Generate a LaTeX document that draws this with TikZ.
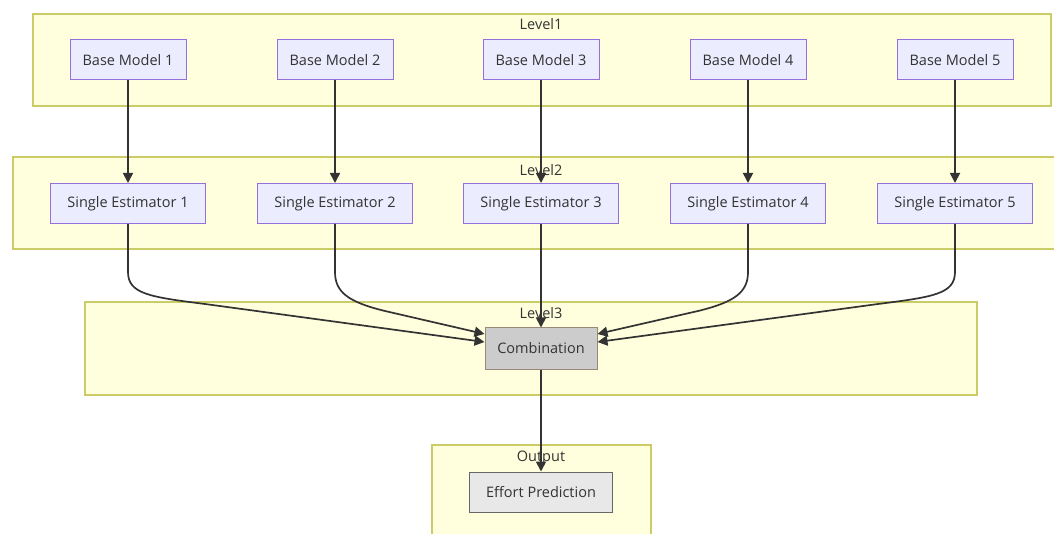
\documentclass[tikz,border=0pt]{standalone}
\usepackage{fontspec}
\setmainfont{Open Sans}
\usetikzlibrary{arrows.meta,calc}
\definecolor{nodefill}{HTML}{ECECFF}
\definecolor{nodeline}{HTML}{9370DB}
\definecolor{clfill}{HTML}{FFFFDE}
\definecolor{clline}{HTML}{CCCC66}
\definecolor{edgecol}{HTML}{333333}
\definecolor{combfill}{HTML}{CCCCCC}
\definecolor{combline}{HTML}{998877}
\definecolor{outfill}{HTML}{E8E8E8}
\definecolor{outline}{HTML}{666666}
\tikzset{
  cluster/.style={draw=clline, fill=clfill, line width=1.2pt},
  cllabel/.style={text=edgecol, font=\fontsize{14.5}{16}\selectfont, inner sep=0pt},
  proc/.style={draw=nodeline, fill=nodefill, line width=1pt, text=edgecol,
    font=\fontsize{14.5}{16}\selectfont, inner sep=0pt, minimum height=40pt},
  bm/.style={proc, minimum width=116pt},
  se/.style={proc, minimum width=155pt},
  comb/.style={proc, draw=combline, fill=combfill, minimum width=112pt, minimum height=41pt},
  outn/.style={proc, draw=outline, fill=outfill, minimum width=143pt},
  edge/.style={draw=edgecol, line width=1.7pt, -{Triangle[length=10pt,width=10pt]}}
}
\begin{document}
\begin{tikzpicture}[x=1pt,y=-1pt]
\useasboundingbox (0,0) rectangle (1054,534);
\clip (0,0) rectangle (1054,534);
\fill[white] (0,0) rectangle (1054,534);
% clusters
\draw[cluster] (33,14) rectangle (1051,106);
\draw[cluster] (13,157) rectangle (1060,249);
\draw[cluster] (85,302) rectangle (977,395);
\draw[cluster] (432,445) rectangle (651,540);
\node[cllabel] (l1) at (541,24) {Level1};
\node[cllabel] (l2) at (541,170) {Level2};
\node[cllabel] (l3) at (541,313) {Level3};
\node[cllabel] (lo) at (541,458) {Output};
% nodes
\node[bm] (bm1) at (128,60) {Base Model 1};
\node[bm] (bm2) at (335,60) {Base Model 2};
\node[bm] (bm3) at (541,60) {Base Model 3};
\node[bm] (bm4) at (748,60) {Base Model 4};
\node[bm] (bm5) at (955,60) {Base Model 5};
\node[se] (se1) at (128,203.5) {Single Estimator 1};
\node[se] (se2) at (335,203.5) {Single Estimator 2};
\node[se] (se3) at (541,203.5) {Single Estimator 3};
\node[se] (se4) at (748,203.5) {Single Estimator 4};
\node[se] (se5) at (955,203.5) {Single Estimator 5};
\node[comb] (cb) at (541,348.5) {Combination};
\node[outn] (ep) at (541,492) {Effort Prediction};
% edges
\foreach \i in {1,...,5}{\draw[edge] (bm\i.south) -- (se\i.north);}
\draw[edge] (se3.south) -- (cb.north);
\draw[edge] (cb.south) -- (ep.north);
\draw[edge] (se1.south) -- ++(0,48) .. controls ++(0,22) and (150,297) .. (205,304) -- ($(cb.west)+(0,-6.5)$);
\draw[edge] (se2.south) -- ++(0,48) .. controls ++(0,20) and (348,302) .. (385,311) -- ($(cb.west)+(0,-14.5)$);
\draw[edge] (se5.south) -- ++(0,48) .. controls ++(0,22) and (933,297) .. (878,304) -- ($(cb.east)+(0,-6.5)$);
\draw[edge] (se4.south) -- ++(0,48) .. controls ++(0,20) and (735,302) .. (698,311) -- ($(cb.east)+(0,-14.5)$);
\end{tikzpicture}
\end{document}
